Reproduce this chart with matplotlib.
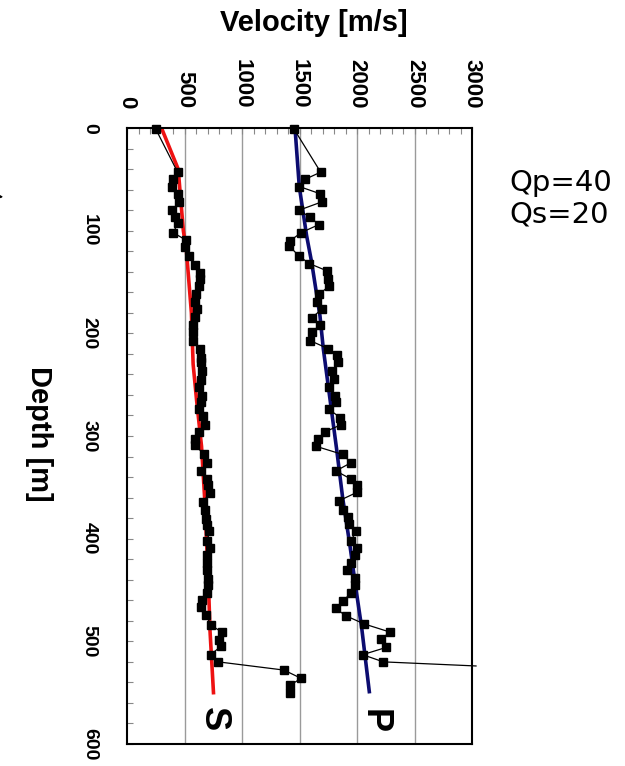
import matplotlib
matplotlib.use("Agg")
import matplotlib.pyplot as plt
from matplotlib.ticker import MultipleLocator
from matplotlib.font_manager import FontProperties

# ---- data ----
s_depth = [1, 43, 50, 57, 64, 72, 80, 87, 93, 102, 109, 116, 125, 133, 141, 147, 154, 162, 169, 176,
           184, 192, 199, 207, 215, 224, 228, 237, 245, 252, 261, 267, 274, 281, 289, 296, 303, 309,
           318, 326, 334, 342, 348, 356, 364, 372, 381, 387, 393, 402, 409, 416, 424, 431, 439, 445,
           453, 460, 467, 474, 484, 491, 499, 505, 513, 520, 528, 536, 543, 550]
s_vel = [250, 440, 403, 395, 440, 455, 395, 417, 440, 403, 510, 504, 539, 590, 635, 635, 626, 600, 591, 613,
         590, 578, 571, 571, 635, 643, 643, 650, 643, 626, 650, 643, 626, 663, 678, 626, 591, 591,
         672, 699, 643, 699, 707, 722, 658, 678, 687, 693, 716, 699, 722, 699, 693, 699, 707, 707,
         699, 650, 643, 687, 728, 823, 800, 815, 728, 794, 1365, 1513, 1417, 1417]

p_depth = [1, 43, 50, 57, 64, 72, 80, 87, 94, 102, 110, 115, 125, 132, 139, 147, 154, 162, 169, 176,
           185, 192, 199, 207, 215, 221, 228, 237, 244, 252, 261, 267, 274, 282, 289, 296, 303, 310,
           318, 326, 334, 342, 348, 355, 363, 372, 379, 386, 393, 402, 409, 416, 424, 431, 438, 445,
           453, 461, 468, 475, 483, 491, 498, 506, 513, 520, 524]
p_vel = [1452, 1684, 1548, 1498, 1678, 1693, 1498, 1591, 1670, 1513, 1417, 1411, 1498, 1585, 1736, 1750, 1757, 1670, 1649, 1698,
         1606, 1678, 1606, 1591, 1750, 1823, 1832, 1785, 1803, 1757, 1809, 1815, 1757, 1852, 1861, 1722, 1658, 1643,
         1875, 1948, 1817, 1948, 2003, 1997, 1845, 1875, 1919, 1930, 1991, 1948, 1997, 1983, 1948, 1910, 1983, 1983,
         1948, 1875, 1815, 1901, 2061, 2287, 2206, 2252, 2049, 2229, 3035]

s_model_depth = [0, 40, 100, 120, 180, 230, 265, 310, 360, 440, 490, 550]
s_model_vel = [300, 445, 490, 517, 560, 575, 605, 648, 675, 707, 722, 752]

p_model_depth = [0, 57, 105, 131, 183, 215, 264, 313, 360, 407, 449, 487, 549]
p_model_vel = [1461, 1498, 1562, 1606, 1678, 1707, 1765, 1823, 1875, 1939, 1991, 2041, 2107]

vel_ticks = [0, 500, 1000, 1500, 2000, 2500, 3000]
depth_ticks = [0, 100, 200, 300, 400, 500, 600]

# ---- figure ----
W, H = 625, 766
fig = plt.figure(figsize=(W / 100, H / 100), dpi=100)
ax = fig.add_axes([127 / W, 1 - 744 / H, (472 - 127) / W, (744 - 128) / H])

bold = dict(family="Liberation Sans", weight="bold")

for v in vel_ticks[1:-1]:
    ax.axvline(v, color="#9a9a9a", lw=1.0, zorder=1)

ax.plot(s_model_vel, s_model_depth, color="#ee1111", lw=2.6, zorder=2)
ax.plot(p_model_vel, p_model_depth, color="#0c0c70", lw=2.6, zorder=2)

ax.plot(s_vel, s_depth, color="black", lw=0.9, marker="s", ms=5.5, zorder=3, clip_on=False)
ax.plot(p_vel, p_depth, color="black", lw=0.9, marker="s", ms=5.5, zorder=3, clip_on=False,
        markevery=slice(0, len(p_vel) - 1))

ax.set_xlim(0, 3000)
ax.set_ylim(600, 0)

ax.xaxis.set_minor_locator(MultipleLocator(100))
ax.yaxis.set_minor_locator(MultipleLocator(20))
ax.set_xticks(vel_ticks)
ax.set_yticks(depth_ticks)

ax.xaxis.tick_top()
ax.tick_params(axis="x", which="both", top=True, bottom=False, direction="in",
               length=4, width=0.8, color="#888888", pad=14)
ax.tick_params(axis="y", which="both", left=True, right=False, direction="in",
               length=4, width=0.8, color="#888888", pad=21)

for lab in ax.get_xticklabels():
    lab.set_rotation(-90)
    lab.set_fontproperties(FontProperties(family="Liberation Sans", weight="bold", size=16))
    lab.set_va("bottom")
    lab.set_ha("center")
for lab in ax.get_yticklabels():
    lab.set_rotation(-90)
    lab.set_fontproperties(FontProperties(family="Liberation Sans", weight="bold", size=14))
    lab.set_va("center")
    lab.set_ha("right")

for sp in ax.spines.values():
    sp.set_linewidth(1.5)
    sp.set_color("black")

ax.text(748, 576, "S", rotation=-90, ha="center", va="center", fontsize=26, **bold)
ax.text(2148, 578, "P", rotation=-90, ha="center", va="center", fontsize=26, **bold)

fig.text(314 / W, 1 - 23 / H, "Velocity [m/s]", ha="center", va="center", fontsize=21, **bold)
fig.text(39 / W, 1 - 434 / H, "Depth [m]", ha="center", va="center", rotation=-90, fontsize=21, **bold)

fig.text(509 / W, 1 - 199 / H, "Qp=40\nQs=20", ha="left", va="center", fontsize=21,
         family="DejaVu Sans", linespacing=1.15)

ax.annotate("", xy=(6 / W, 1 - 197 / H), xytext=(-30 / W, 1 - 195 / H),
            xycoords="figure fraction", textcoords="figure fraction",
            arrowprops=dict(arrowstyle="-|>", color="black", lw=1, mutation_scale=10))

fig.savefig("out.png", dpi=100)
